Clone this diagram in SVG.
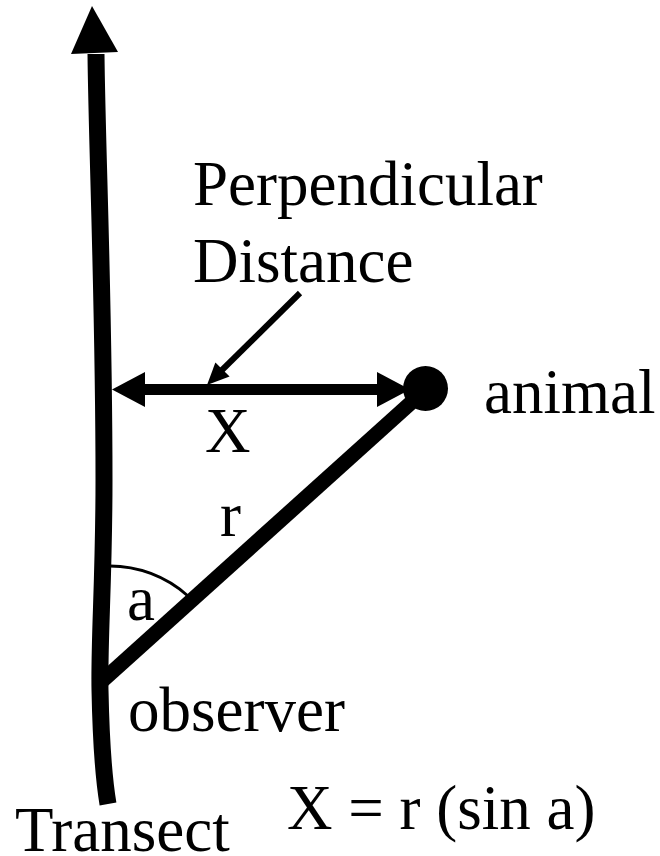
<svg xmlns="http://www.w3.org/2000/svg" width="660" height="856" viewBox="0 0 660 856">
<style>
.t{font-family:"Liberation Serif","Times New Roman",serif;font-size:63px;fill:#000}
.ln{fill:none;stroke:#000}
.hd{fill:#000;stroke:none}
</style>
<rect width="660" height="856" fill="#fff"/>
<g id="transect">
<path class="ln" d="M96,54 C97,150 104,300 104,480 C104,580 99,640 100,690 C101,740 104,780 108,804" stroke-width="17"/>
<polygon class="hd" points="92,6 71,54 118,52"/>
<text class="t" x="15" y="851">Transect</text>
</g>
<g id="animal">
<circle cx="425.5" cy="388.5" r="22.5" fill="#000"/>
<text class="t" x="484" y="413">animal</text>
</g>
<g id="observer">
<text class="t" x="128" y="731">observer</text>
</g>
<g id="perpendicular-label">
<text class="t" x="193" y="205">Perpendicular</text>
<text class="t" x="193" y="282">Distance</text>
</g>
<g id="connectors">
<line class="ln" x1="101" y1="682" x2="424" y2="391" stroke-width="15"/>
<line class="ln" x1="140" y1="389.5" x2="385" y2="389.5" stroke-width="11"/>
<polygon class="hd" points="112,389.5 145,372 145,407"/>
<polygon class="hd" points="410,389.5 377,372 377,407"/>
<line class="ln" x1="300" y1="293" x2="220" y2="372" stroke-width="6"/>
<polygon class="hd" points="207,385 215.4,362.4 229.6,376.6"/>
<path class="ln" d="M108,566 A117,117 0 0 1 188,596" stroke-width="3"/>
</g>
<g id="labels">
<text class="t" x="205" y="452">X</text>
<text class="t" x="220" y="536">r</text>
<text class="t" x="127" y="620">a</text>
<text class="t" x="287" y="829">X = r (sin a)</text>
</g>
</svg>
